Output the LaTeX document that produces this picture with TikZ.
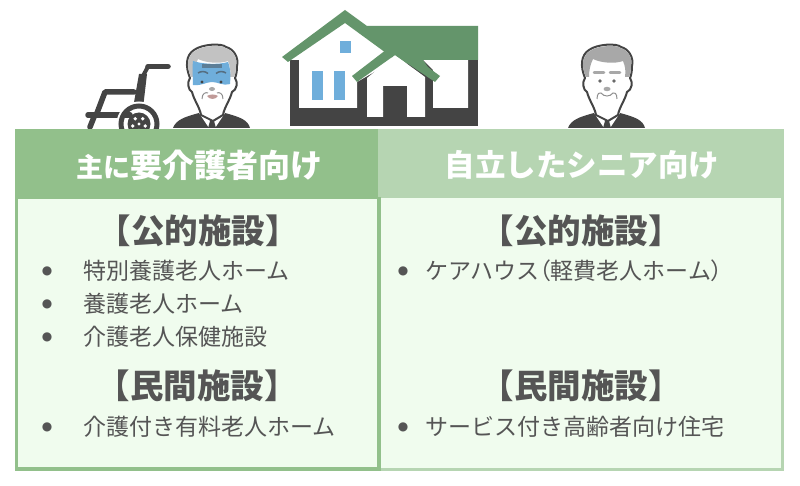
\documentclass[tikz,border=0pt]{standalone}
\usepackage{fontspec}
\setmainfont{Noto Sans CJK JP}
\newfontfamily\symb{DejaVu Sans}
\definecolor{hdA}{HTML}{92C08B}
\definecolor{hdB}{HTML}{B6D5B2}
\definecolor{bodyA}{HTML}{F0FCEE}
\definecolor{edgeA}{HTML}{92C08B}
\definecolor{edgeB}{HTML}{B6D5B2}
\definecolor{ink}{HTML}{555555}
\definecolor{dark}{HTML}{444444}
\definecolor{roof}{HTML}{64956B}
\definecolor{win}{HTML}{6FAEDB}
\definecolor{hair}{HTML}{A8A8A8}
\definecolor{lip}{HTML}{C09A98}
\tikzset{
 headtxt/.style={text=white,font=\bfseries\fontsize{30.5}{30.5}\selectfont,anchor=center,inner sep=0},
 sect/.style={text=ink,font=\bfseries\fontsize{33.5}{33.5}\selectfont,anchor=center,inner sep=0},
 item/.style={text=ink,font=\fontsize{23}{23}\selectfont,anchor=west,inner sep=0},
 dot/.style={text=ink,font=\symb\fontsize{12}{12}\selectfont,anchor=center,inner sep=0},
 wheel/.style={draw=dark,line width=5.5pt,line cap=round,line join=round},
}
\newcommand{\person}[3]{%
\begin{scope}[shift={(#1,0)}]
 \fill[dark] (-39,128) .. controls (-36,120) and (-28,117) .. (-13,113) -- (13,113) .. controls (28,117) and (36,120) .. (38,128) -- cycle;
 \fill[white] (-13,113) -- (-3,128) -- (3,128) -- (13,113) -- cycle;
 \fill[dark] (-3,118) -- (3,118) -- (2,121) -- (4,128) -- (-4,128) -- (-2,121) -- cycle;
 \filldraw[draw=dark,line width=2pt,line join=round,fill=white] (-11,115) .. controls (-12,108) and (-18,100) .. (-20,92) .. controls (-24,90) and (-25,82) .. (-22,78) .. controls (-27,66) and (-26,55) .. (-18,50) .. controls (-10,44) and (10,43) .. (14,47) .. controls (22,49) and (27,58) .. (25,66) .. controls (25,72) and (24,76) .. (23,78) .. controls (26,82) and (25,90) .. (20,92) .. controls (18,100) and (12,108) .. (11,115) -- (1,121) -- cycle;
 \fill[#2] (-21,77) .. controls (-26,66) and (-25,56) .. (-17,51) .. controls (-10,45.5) and (10,44.5) .. (13.5,48) .. controls (21,50) and (26,58) .. (24,66) .. controls (24,71) and (23,75) .. (22,77) -- (18,77) .. controls (19,70) and (18,66) .. (16,61) .. controls (8,64) and (-6,63) .. (-14,59) .. controls (-17,65) and (-18,71) .. (-18,77) -- cycle;
 #3
\end{scope}}
\begin{document}
\begin{tikzpicture}[x=1pt,y=-1pt]
\useasboundingbox (0,0) rectangle (800,486);
\fill[white] (0,0) rectangle (800,486);
% wheelchair
\draw[wheel] (168,66.5) -- (148,66.5);
\draw[draw=dark,line width=4pt,line cap=round,line join=round] (148,66.5) -- (143,76);
\fill[dark] (139,74) -- (147,74) -- (143,108) -- (133,108) -- cycle;
\draw[wheel] (134,92) -- (105,92) -- (97,113);
\draw[wheel] (88,115) -- (130,115);
\draw[wheel] (94,117) -- (90,127);
\draw[draw=white,line width=3pt] (139,124) circle (21);
\draw[draw=dark,line width=5pt] (139,124) circle (18);
\fill[dark] (139,124) circle (11.5);
\fill[white] (139,124) circle (1.6);
\foreach \a in {90,162,234,306,18}{\fill[white] (139,124) ++(\a:6.5) circle (1.9);}
% left person
\person{212}{hair!70!white}{%
 \fill[win] (-19,61) .. controls (-10,64) and (6,65) .. (16,62) .. controls (18,67) and (19,72) .. (18,84) .. controls (10,86) and (6,82) .. (0,82) .. controls (-6,82) and (-10,86) .. (-19,85) .. controls (-19,76) and (-20,70) .. (-19,61) -- cycle;
 \fill[dark!45!win] (-10,64) rectangle (10,68);
 \draw[dark!60!win,line width=1.5pt] (-14,73) .. controls (-11,71) and (-7,71) .. (-4,73.5);
 \draw[dark!60!win,line width=1.5pt] (4,73.5) .. controls (7,71) and (11,71) .. (14,73);
 \fill[dark] (-10,82) circle (1.7) (9,82) circle (1.7);
 \fill[hair] (0,89) ellipse (3 and 2);
 \fill[lip] (-5,96) .. controls (-2,94) and (3,94) .. (6,96) .. controls (3,100) and (-2,100) .. (-5,96) -- cycle;
 \draw[dark!60,line width=1pt] (-10,99) .. controls (-10,93) and (-6,92) .. (-4,93);
 \draw[dark!60,line width=1pt] (11,99) .. controls (11,93) and (7,92) .. (5,93);
}
% right person
\person{607}{hair}{%
 \draw[hair,line width=2.5pt,line cap=round] (-13,72.5) -- (-3,72.5);
 \draw[hair,line width=2.5pt,line cap=round] (3,72.5) -- (13,72.5);
 \fill[dark!80] (-7,81) circle (1.8) (7,81) circle (1.8);
 \fill[hair] (0,89) ellipse (3.5 and 2.2);
 \draw[dark!60,line width=1pt] (-10,99) .. controls (-10,93) and (-7,92) .. (-6,93) .. controls (-3,97) and (3,97) .. (6,93) .. controls (7,92) and (10,93) .. (10,99);
}
% house
\fill[dark] (290,60) rectangle (478,126);
\fill[white] (299,55) -- (345,23) -- (382,50) -- (395,60) -- (357,82) -- (357,108) -- (299,108) -- cycle;
\fill[white] (423,60) -- (468,60) -- (468,108) -- (433,108) -- (433,70) -- cycle;
\fill[roof] (282,57) -- (345,10) -- (367,26) -- (478,26) -- (478,60) -- (423,60) -- (430,70) -- (395,60) -- (382,50) -- (345,23) -- (288,62) -- cycle;
\fill[white] (395,55) -- (367,78) -- (367,117) -- (383,117) -- (383,86) -- (407,86) -- (407,117) -- (425,117) -- (425,77) -- cycle;
\fill[roof] (352,76) -- (395,43) -- (440,76) -- (435,82) -- (395,55) -- (357,82) -- cycle;
\fill[win] (340,41) rectangle (351,53);
\fill[win] (312,71) rectangle (323,100);
\fill[win] (334,71) rectangle (345,100);
% panels
\fill[bodyA] (15,197) rectangle (783,470);
\draw[edgeB,line width=3pt] (379,197) -- (782.5,197) -- (782.5,469) -- (379,469);
\draw[edgeA,line width=3.5pt] (379,197) rectangle (16.5,469);
\fill[hdA] (15,129) rectangle (378,197);
\fill[hdB] (378,129) rectangle (784,197);
% header texts
\node[headtxt] (h1) at (199,165) {{\fontsize{27}{27}\selectfont 主に}\fontsize{32}{32}\selectfont 要介護者向け};
\node[headtxt] (h2) at (582,165) {自立したシニア向け};
% sections
\node[sect] (s1) at (198,231) {【公的施設】};
\node[sect] (s2) at (197,386) {【民間施設】};
\node[sect] (s3) at (581,231) {【公的施設】};
\node[sect] (s4) at (581,386) {【民間施設】};
% items
\node[dot] (d1) at (47,271) {●};
\node[item] (i1) at (83,271) {特別養護老人ホーム};
\node[dot] (d2) at (47,304) {●};
\node[item] (i2) at (83,304) {養護老人ホーム};
\node[dot] (d3) at (47,337) {●};
\node[item] (i3) at (83,337) {介護老人保健施設};
\node[dot] (d4) at (47,427) {●};
\node[item] (i4) at (83,427) {介護付き有料老人ホーム};
\node[dot] (d5) at (403,271) {●};
\node[item] (i5) at (425,271) {ケアハウス{\addfontfeatures{RawFeature=+palt}（}軽費老人ホーム{\addfontfeatures{RawFeature=+palt}）}};
\node[dot] (d6) at (403,427) {●};
\node[item] (i6) at (425,427) {サービス付き高齢者向け住宅};
\end{tikzpicture}
\end{document}
